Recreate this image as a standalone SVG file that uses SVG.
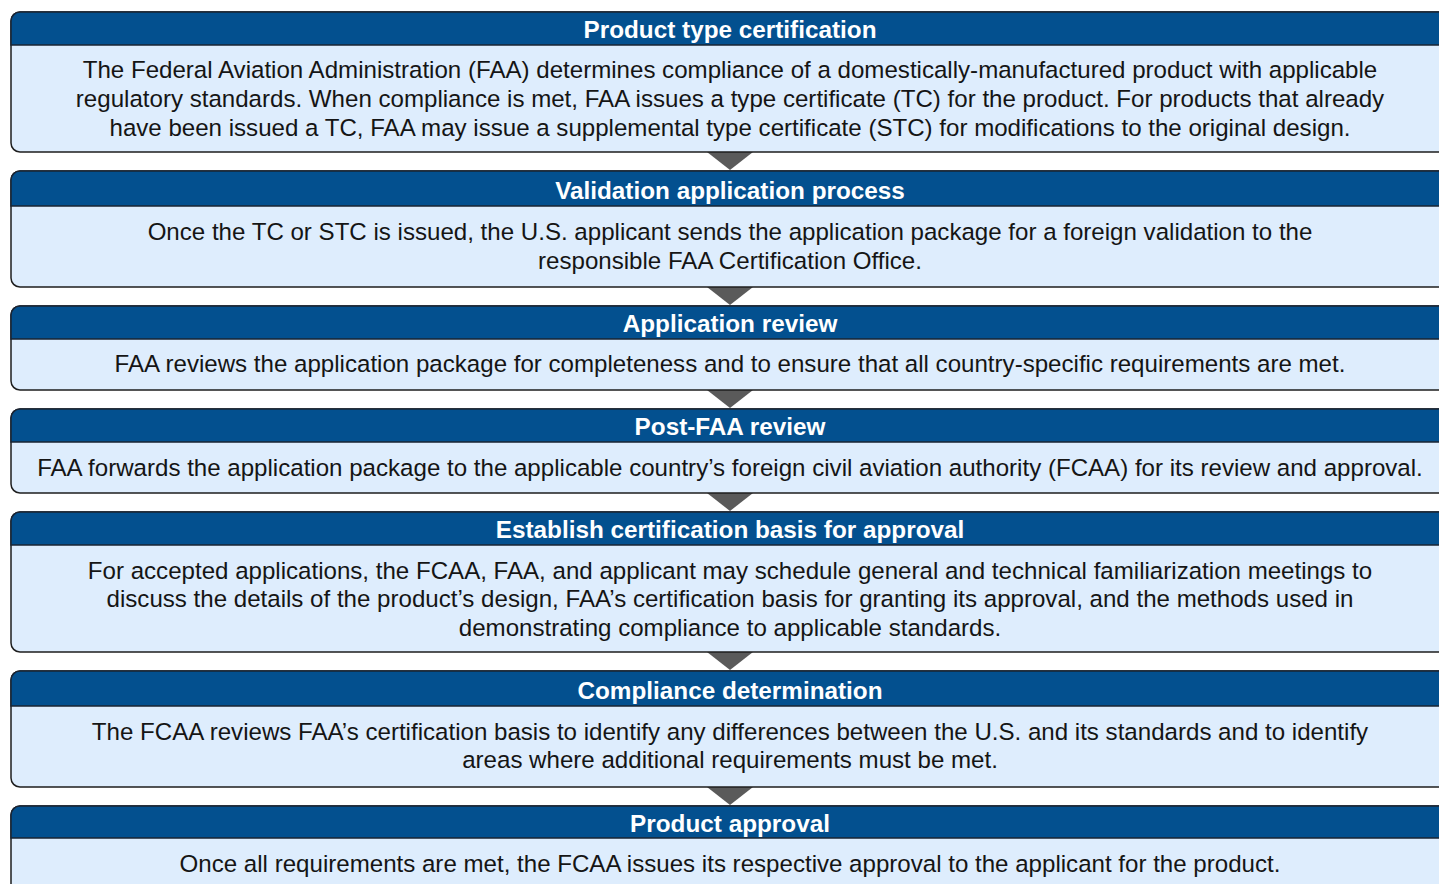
<svg xmlns="http://www.w3.org/2000/svg" width="1439" height="884" viewBox="0 0 1439 884">
<style>
.box{fill:#deedfd;stroke:#1e1e1e;stroke-width:1.5}
.hdr{fill:#03508f;stroke:#1a2433;stroke-width:1.5}
.ht{font-family:"Liberation Sans",Arial,sans-serif;font-weight:bold;font-size:24.3px;fill:#ffffff;text-anchor:middle}
.bt{font-family:"Liberation Sans",Arial,sans-serif;font-size:24.1px;fill:#151515;text-anchor:middle}
.arr{fill:#5a5a5a}
</style>
<rect x="0" y="0" width="1439" height="884" fill="#ffffff"/>
<g id="connectors">
<polygon class="arr" points="707,152 753,152 730,170"/>
<polygon class="arr" points="707,287 753,287 730,305"/>
<polygon class="arr" points="707,390 753,390 730,408"/>
<polygon class="arr" points="707,493 753,493 730,511"/>
<polygon class="arr" points="707,652 753,652 730,670"/>
<polygon class="arr" points="707,787 753,787 730,805"/>
</g>
<g id="node1">
<rect class="box" x="11" y="12" width="1450" height="140" rx="9"/>
<path class="hdr" d="M11,45 V21 A9,9 0 0 1 20,12 H1461 V45 Z"/>
<text class="ht" x="730" y="38">Product type certification</text>
<text class="bt" x="730" y="78">The Federal Aviation Administration (FAA) determines compliance of a domestically-manufactured product with applicable</text>
<text class="bt" x="730" y="107">regulatory standards. When compliance is met, FAA issues a type certificate (TC) for the product. For products that already</text>
<text class="bt" x="730" y="136">have been issued a TC, FAA may issue a supplemental type certificate (STC) for modifications to the original design.</text>
</g>
<g id="node2">
<rect class="box" x="11" y="171" width="1450" height="116" rx="9"/>
<path class="hdr" d="M11,206 V180 A9,9 0 0 1 20,171 H1461 V206 Z"/>
<text class="ht" x="730" y="199">Validation application process</text>
<text class="bt" x="730" y="240">Once the TC or STC is issued, the U.S. applicant sends the application package for a foreign validation to the</text>
<text class="bt" x="730" y="269">responsible FAA Certification Office.</text>
</g>
<g id="node3">
<rect class="box" x="11" y="306" width="1450" height="84" rx="9"/>
<path class="hdr" d="M11,339 V315 A9,9 0 0 1 20,306 H1461 V339 Z"/>
<text class="ht" x="730" y="332">Application review</text>
<text class="bt" x="730" y="372">FAA reviews the application package for completeness and to ensure that all country-specific requirements are met.</text>
</g>
<g id="node4">
<rect class="box" x="11" y="409" width="1450" height="84" rx="9"/>
<path class="hdr" d="M11,442 V418 A9,9 0 0 1 20,409 H1461 V442 Z"/>
<text class="ht" x="730" y="435">Post-FAA review</text>
<text class="bt" x="730" y="475.5">FAA forwards the application package to the applicable country’s foreign civil aviation authority (FCAA) for its review and approval.</text>
</g>
<g id="node5">
<rect class="box" x="11" y="512" width="1450" height="140" rx="9"/>
<path class="hdr" d="M11,545 V521 A9,9 0 0 1 20,512 H1461 V545 Z"/>
<text class="ht" x="730" y="538">Establish certification basis for approval</text>
<text class="bt" x="730" y="578.5">For accepted applications, the FCAA, FAA, and applicant may schedule general and technical familiarization meetings to</text>
<text class="bt" x="730" y="607">discuss the details of the product’s design, FAA’s certification basis for granting its approval, and the methods used in</text>
<text class="bt" x="730" y="636">demonstrating compliance to applicable standards.</text>
</g>
<g id="node6">
<rect class="box" x="11" y="671" width="1450" height="116" rx="9"/>
<path class="hdr" d="M11,706 V680 A9,9 0 0 1 20,671 H1461 V706 Z"/>
<text class="ht" x="730" y="699">Compliance determination</text>
<text class="bt" x="730" y="739.5">The FCAA reviews FAA’s certification basis to identify any differences between the U.S. and its standards and to identify</text>
<text class="bt" x="730" y="768">areas where additional requirements must be met.</text>
</g>
<g id="node7">
<rect class="box" x="11" y="806" width="1450" height="100" rx="9"/>
<path class="hdr" d="M11,838 V815 A9,9 0 0 1 20,806 H1461 V838 Z"/>
<text class="ht" x="730" y="832">Product approval</text>
<text class="bt" x="730" y="871.5">Once all requirements are met, the FCAA issues its respective approval to the applicant for the product.</text>
</g>
</svg>
